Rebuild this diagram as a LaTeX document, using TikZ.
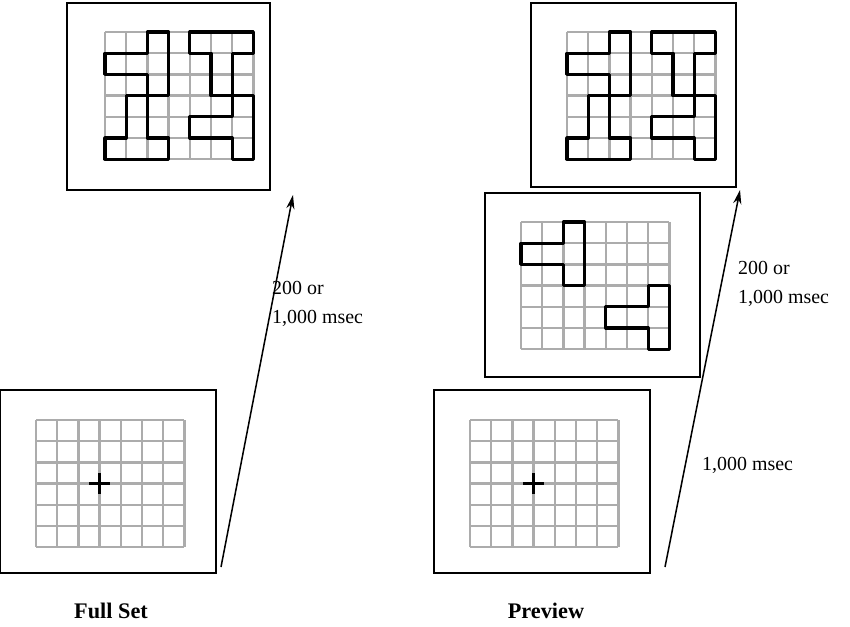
\documentclass[tikz,border=0pt]{standalone}
\usepackage{fontspec}
\setmainfont{Liberation Serif}
\usetikzlibrary{arrows.meta, positioning}

\tikzset{
  panel/.style={draw, line width=1.3pt, fill=white},
  gridline/.style={draw=gray!65, line width=2pt},
  piece/.style={draw=black, line width=2.6pt, line join=round},
  timing/.style={align=left, font=\fontsize{17}{25}\selectfont, inner sep=0pt},
  caption/.style={font=\fontsize{19}{22}\selectfont\bfseries, inner sep=0pt}
}

% 7 x 6 grey grid, top-left corner at #1
\newcommand{\stimgrid}[2]{%
  \begin{scope}[shift={(#1)}, x=0.636cm, y=-0.636cm]
    \foreach \i in {0,...,7} \draw[gridline] (\i,0) -- (\i,6);
    \foreach \j in {0,...,6} \draw[gridline] (0,\j) -- (7,\j);
    #2
  \end{scope}}

\begin{document}
\begin{tikzpicture}[x=0.03cm, y=-0.03cm, >={Stealth[length=12pt, width=7pt]}]
\useasboundingbox (0,0) rectangle (850,627);

% Panels
\node (fullfix)  [panel, minimum width=6.48cm, minimum height=5.49cm] at (108,481.5) {};
\node (fulltest) [panel, minimum width=6.09cm, minimum height=5.61cm] at (168.5,96.5) {};
\node (prefix)   [panel, minimum width=6.48cm, minimum height=5.49cm] at (542,481.5) {};
\node (prepart)  [panel, minimum width=6.45cm, minimum height=5.52cm] at (592.5,285) {};
\node (pretest)  [panel, minimum width=6.15cm, minimum height=5.52cm] at (633.5,95) {};

% Grids and pieces
\stimgrid{36,420}{\draw[piece] (2.5,3) -- (3.5,3) (3,2.5) -- (3,3.5);}
\stimgrid{470,420}{\draw[piece] (2.5,3) -- (3.5,3) (3,2.5) -- (3,3.5);}
\stimgrid{105,32}{
  \draw[piece] (2,0) -- (3,0) -- (3,3) -- (2,3) -- (2,2) -- (0,2) -- (0,1) -- (2,1) -- cycle;
  \draw[piece] (1,3) -- (2,3) -- (2,5) -- (3,5) -- (3,6) -- (0,6) -- (0,5) -- (1,5) -- cycle;
  \draw[piece] (4,0) -- (7,0) -- (7,1) -- (6,1) -- (6,3) -- (5,3) -- (5,1) -- (4,1) -- cycle;
  \draw[piece] (6,3) -- (7,3) -- (7,6) -- (6,6) -- (6,5) -- (4,5) -- (4,4) -- (6,4) -- cycle;}
\stimgrid{567,32}{
  \draw[piece] (2,0) -- (3,0) -- (3,3) -- (2,3) -- (2,2) -- (0,2) -- (0,1) -- (2,1) -- cycle;
  \draw[piece] (1,3) -- (2,3) -- (2,5) -- (3,5) -- (3,6) -- (0,6) -- (0,5) -- (1,5) -- cycle;
  \draw[piece] (4,0) -- (7,0) -- (7,1) -- (6,1) -- (6,3) -- (5,3) -- (5,1) -- (4,1) -- cycle;
  \draw[piece] (6,3) -- (7,3) -- (7,6) -- (6,6) -- (6,5) -- (4,5) -- (4,4) -- (6,4) -- cycle;}
\stimgrid{521,222}{
  \draw[piece] (2,0) -- (3,0) -- (3,3) -- (2,3) -- (2,2) -- (0,2) -- (0,1) -- (2,1) -- cycle;
  \draw[piece] (6,3) -- (7,3) -- (7,6) -- (6,6) -- (6,5) -- (4,5) -- (4,4) -- (6,4) -- cycle;}

% Time lines
\coordinate (fullstart) at (221,567);
\coordinate (fullend)   at (293,195);
\coordinate (prestart)  at (665,567);
\coordinate (preend)    at (740,190);
\draw[->, line width=1.3pt] (fullstart) -- (fullend);
\draw[->, line width=1.3pt] (prestart) -- (preend);

% Labels
\node (fulltime) [timing, anchor=west] at (272,304) {200 or\\1,000 msec};
\node (pretime)  [timing, anchor=west] at (738,284) {200 or\\1,000 msec};
\node (fixtime)  [timing, anchor=west] at (702,465) {1,000 msec};
\node (fullname) [caption] at (111,611) {Full Set};
\node (prename)  [caption] at (546,611) {Preview};

\end{tikzpicture}
\end{document}
